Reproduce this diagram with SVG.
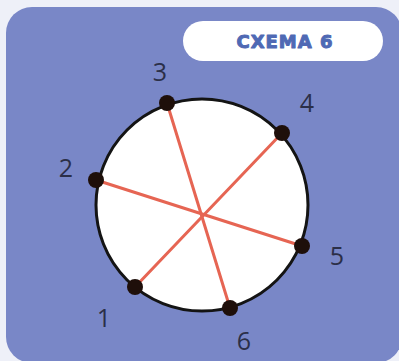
<svg xmlns="http://www.w3.org/2000/svg" width="399" height="361" viewBox="0 0 399 361">
  <style>
    .num { font-family: "Open Sans", "Liberation Sans", sans-serif; font-size: 25px; fill: #2b2f48; text-anchor: middle; }
    .chord { stroke: #e66553; stroke-width: 3; stroke-linecap: round; fill: none; }
    .dot { fill: #1e0f0a; }
  </style>
  <rect x="0" y="0" width="399" height="361" fill="#eef0f8"/>
  <rect id="panel" x="6" y="7" width="396" height="356" rx="26" fill="#7987c7"/>
  <g id="title">
    <rect x="183" y="21" width="200" height="40" rx="20" fill="#ffffff"/>
    <text x="285" y="48" font-family="DejaVu Sans, sans-serif" font-weight="bold" font-size="18" fill="#4f69b4" stroke="#4f69b4" stroke-width="1" stroke-linejoin="round" text-anchor="middle" letter-spacing="1">СХЕМА 6</text>
  </g>
  <g id="circle">
    <circle cx="202" cy="205" r="106" fill="#ffffff" stroke="#141414" stroke-width="3"/>
  </g>
  <g id="connectors">
    <line class="chord" x1="135" y1="287" x2="282" y2="133"/>
    <line class="chord" x1="96" y1="180" x2="302" y2="246"/>
    <line class="chord" x1="167" y1="103" x2="230" y2="308"/>
  </g>
  <g id="p1"><circle class="dot" cx="135" cy="287" r="8"/><text class="num" x="104" y="327">1</text></g>
  <g id="p2"><circle class="dot" cx="96" cy="180" r="8"/><text class="num" x="66" y="177">2</text></g>
  <g id="p3"><circle class="dot" cx="167" cy="103" r="8"/><text class="num" x="160" y="81">3</text></g>
  <g id="p4"><circle class="dot" cx="282" cy="133" r="8"/><text class="num" x="307" y="112">4</text></g>
  <g id="p5"><circle class="dot" cx="302" cy="246" r="8"/><text class="num" x="337" y="265">5</text></g>
  <g id="p6"><circle class="dot" cx="230" cy="308" r="8"/><text class="num" x="244" y="350">6</text></g>
</svg>
